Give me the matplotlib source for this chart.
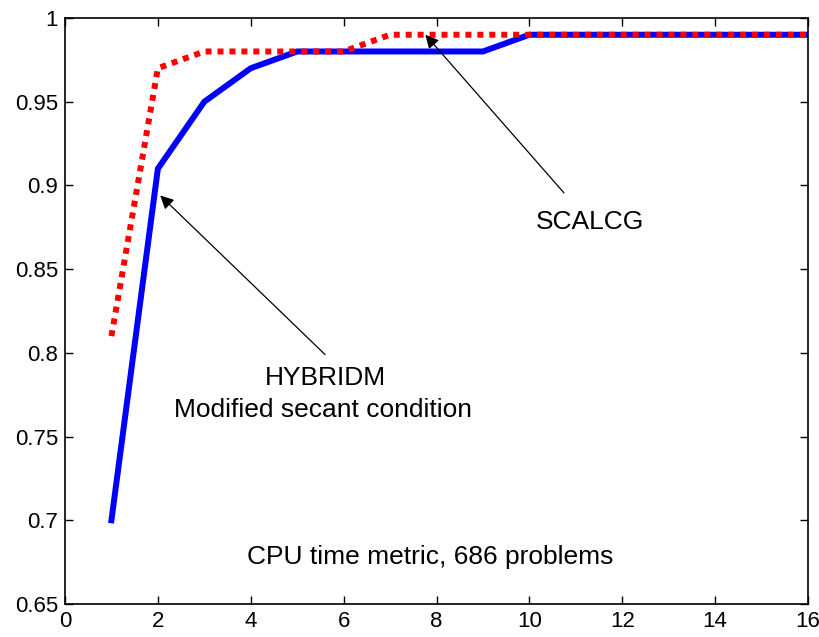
import matplotlib
matplotlib.use("Agg")
import matplotlib.pyplot as plt

plt.rcParams['font.family'] = ['Liberation Sans', 'DejaVu Sans']

x = [1, 2, 3, 4, 5, 6, 7, 8, 9, 10, 11, 12, 13, 14, 15, 16]
hybridm = [0.70, 0.91, 0.95, 0.97, 0.98, 0.98, 0.98, 0.98, 0.98, 0.99, 0.99, 0.99, 0.99, 0.99, 0.99, 0.99]
scalcg = [0.81, 0.97, 0.98, 0.98, 0.98, 0.98, 0.99, 0.99, 0.99, 0.99, 0.99, 0.99, 0.99, 0.99, 0.99, 0.99]
xticks = [0, 2, 4, 6, 8, 10, 12, 14, 16]
yticks = [0.65, 0.7, 0.75, 0.8, 0.85, 0.9, 0.95, 1.0]
yticklabels = ['0.65', '0.7', '0.75', '0.8', '0.85', '0.9', '0.95', '1']

fig = plt.figure(figsize=(8.19, 6.37), dpi=100)
ax = fig.add_axes([65/819, 1 - 604/637, (808-65)/819, (604-18)/637])

ax.plot(x, hybridm, color='#0000ff', lw=4.3, solid_joinstyle='miter')
ax.plot(x, scalcg, color='#ff0000', lw=4.3, linestyle=(0, (1, 1)), dash_capstyle='butt')

ax.set_xlim(0, 16)
ax.set_ylim(0.65, 1.0)
ax.set_xticks(xticks)
ax.set_yticks(yticks)
ax.set_yticklabels(yticklabels)
ax.tick_params(direction='in', top=True, right=True, length=6, width=1, pad=5)
for lab in ax.get_xticklabels() + ax.get_yticklabels():
    lab.set_fontfamily(['Liberation Sans Narrow', 'Liberation Sans'])
    lab.set_fontsize(16)
for s in ax.spines.values():
    s.set_linewidth(1.2)

fs = 19
ax.annotate('SCALCG', xy=(7.76, 0.990), xytext=(11.3, 0.878), ha='center', va='center',
            fontsize=fs, arrowprops=dict(arrowstyle='-|>', color='black', lw=0.9,
                                         mutation_scale=20, shrinkA=14, shrinkB=0))
ax.annotate('', xy=(2.05, 0.894), xytext=(5.6, 0.799),
            arrowprops=dict(arrowstyle='-|>', color='black', lw=0.9,
                            mutation_scale=20, shrinkA=0, shrinkB=0))
ax.text(5.6, 0.785, 'HYBRIDM', ha='center', va='center', fontsize=fs)
ax.text(5.55, 0.766, 'Modified secant condition', ha='center', va='center', fontsize=fs)
ax.text(7.87, 0.678, 'CPU time metric, 686 problems', ha='center', va='center', fontsize=fs)

fig.savefig('out.png', dpi=100)
